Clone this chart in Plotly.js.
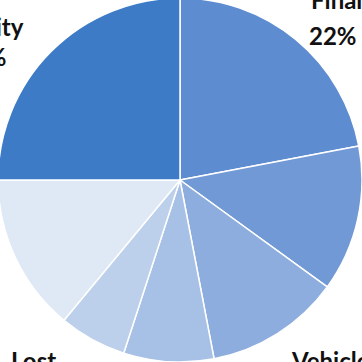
<!DOCTYPE html>
<html>
<head>
<meta charset="utf-8">
<script src="https://cdn.plot.ly/plotly-3.0.1.min.js"></script>
<style>
  html, body { margin: 0; padding: 0; width: 362px; height: 362px; overflow: hidden; background: #fff; }
  #chart { position: absolute; left: -2px; top: -2px; width: 364px; height: 364px; }
</style>
</head>
<body>
<div id="chart"></div>
<script>
// Data (clockwise from 12 o'clock)
const categories = ["Final", "Industry", "Vehicle", "Buildings", "Other", "Lost", "Electricity"];
const shares = [22, 13, 12, 8, 6, 14, 25];
const sliceColors = ["#5d8dd0", "#7199d5", "#8caddd", "#a7c0e5", "#bccfeb", "#dfe8f5", "#3d7bc6"];

const W = 364, OFF = 2;
const px = x => (x + OFF) / W;
const py = y => 1 - (y + OFF) / W;
const font = { family: "Lato, 'Open Sans', sans-serif", size: 24, color: "#111" };
function ann(text, x, y, xanchor) {
  return { text: "<b>" + text + "</b>", xref: "paper", yref: "paper", x: px(x), y: py(y),
           xanchor: xanchor, yanchor: "top", showarrow: false, font: font };
}

const annotations = [
  ann(categories[0], 309, -16.7, "left"),
  ann(shares[0] + "%", 307, 19.3, "left"),
  ann(categories[6], 26, 10.3, "right"),
  ann(shares[6] + "%", 9, 40.3, "right"),
  ann(categories[5], 9, 344.3, "left"),
  ann(categories[2], 289, 344.3, "left")
];

Plotly.newPlot("chart", [{
  type: "pie",
  labels: categories,
  values: shares,
  sort: false,
  direction: "clockwise",
  rotation: 0,
  textinfo: "none",
  hoverinfo: "none",
  marker: { colors: sliceColors, line: { color: "#ffffff", width: 1.5 } },
  domain: { x: [0, 1], y: [0, 1] }
}], {
  width: 364, height: 364,
  margin: { l: 0, r: 0, t: 0, b: 0 },
  showlegend: false,
  paper_bgcolor: "#ffffff",
  annotations: annotations
}, { staticPlot: true });
</script>
</body>
</html>
